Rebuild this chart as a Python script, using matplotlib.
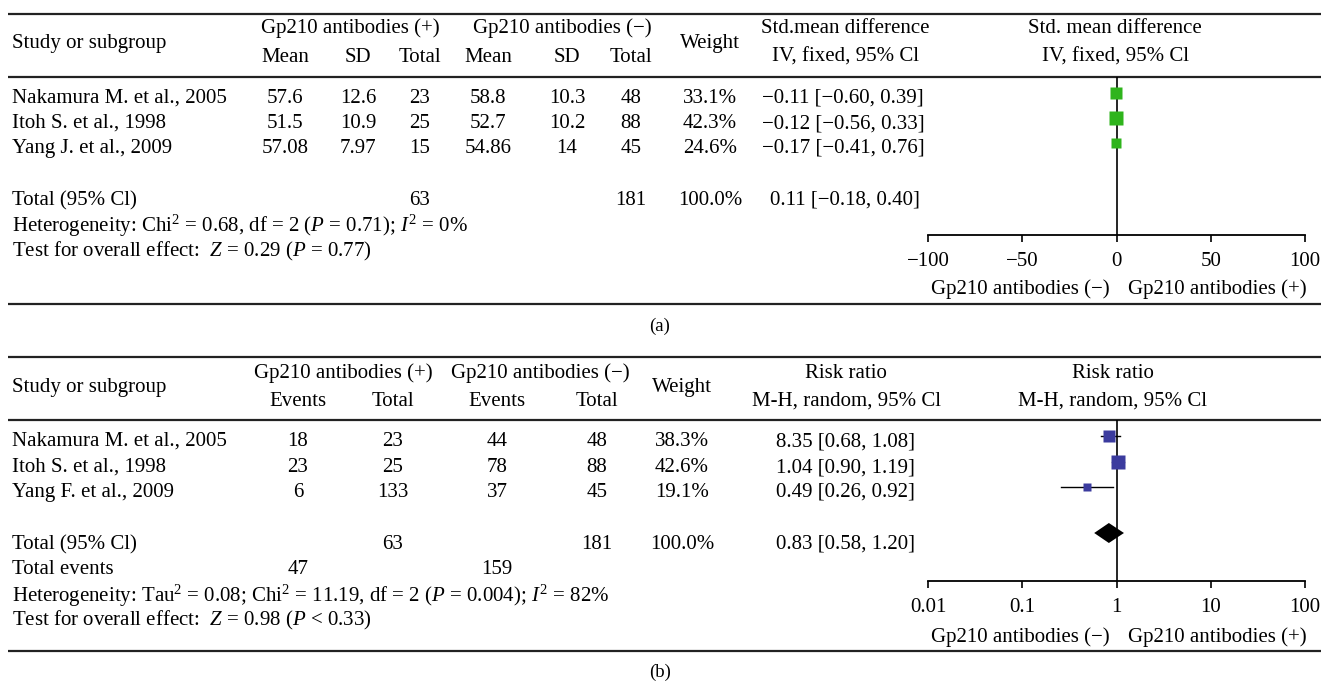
import matplotlib
matplotlib.use('Agg')
import matplotlib.pyplot as plt

plt.rcParams['font.family'] = ['Liberation Serif', 'DejaVu Serif']
plt.rcParams['mathtext.fontset'] = 'custom'
plt.rcParams['mathtext.rm'] = 'Liberation Serif'
plt.rcParams['mathtext.it'] = 'Liberation Serif:italic'

W, H = 1321, 686
FS = 15
MINUS = '\u2212'

# ── Panel (a): std. mean difference, IV fixed ─────────────────────────────────
studies_a = ['Nakamura M. et al., 2005', 'Itoh S. et al., 1998', 'Yang J. et al., 2009']
mean_pos = [57.6, 51.5, 57.08]
sd_pos = [12.6, 10.9, 7.97]
n_pos_a = [23, 25, 15]
mean_neg = [58.8, 52.7, 54.86]
sd_neg = [10.3, 10.2, 14]
n_neg_a = [48, 88, 45]
weight_a = [33.1, 42.3, 24.6]
smd = [-0.11, -0.12, -0.17]
smd_lo = [-0.60, -0.56, -0.41]
smd_hi = [0.39, 0.33, 0.76]
smd_total = [0.11, -0.18, 0.40]
total_pos_a, total_neg_a = 63, 181
ticks_a = [-100, -50, 0, 50, 100]

# ── Panel (b): risk ratio, M-H random ─────────────────────────────────────────
studies_b = ['Nakamura M. et al., 2005', 'Itoh S. et al., 1998', 'Yang F. et al., 2009']
ev_pos = [18, 23, 6]
n_pos_b = [23, 25, 133]
ev_neg = [44, 78, 37]
n_neg_b = [48, 88, 45]
weight_b = [38.3, 42.6, 19.1]
rr = [0.835, 1.04, 0.49]
rr_printed = ['8.35', '1.04', '0.49']   # estimates as printed in the table
rr_lo = [0.68, 0.90, 0.26]
rr_hi = [1.08, 1.19, 0.92]
rr_total = [0.83, 0.58, 1.20]
total_pos_b, total_neg_b = 63, 181
events_pos_b, events_neg_b = 47, 159
ticks_b = [0.01, 0.1, 1, 10, 100]

GREEN = '#2fb41c'
BLUE = '#3b3b9e'


def fmt(v):
    return f'{v:.2f}'.replace('-', MINUS)


def ci_text(est, lo, hi):
    return f'{est} [{fmt(lo)}, {fmt(hi)}]'


def side_px(w):
    # square side grows with the study weight
    return 3 + 0.26 * w


fig = plt.figure(figsize=(W / 100, H / 100), dpi=100)
ax = fig.add_axes([0, 0, 1, 1])
ax.set_xlim(0, W)
ax.set_ylim(H, 0)
ax.axis('off')


def txt(x, y, s, ha='center', size=FS):
    ax.text(x, y + 1.5, s, ha=ha, va='center', fontsize=size)


def px_axes(x0, x1, y0, y1):
    return fig.add_axes([x0 / W, 1 - y1 / H, (x1 - x0) / W, (y1 - y0) / H])


def style_forest(fa):
    fa.patch.set_visible(False)
    for s in ('top', 'left', 'right'):
        fa.spines[s].set_visible(False)
    fa.spines['bottom'].set_linewidth(1.3)
    fa.set_yticks([])
    fa.tick_params(axis='x', direction='out', length=5, width=1.2,
                   labelsize=FS, pad=7)
    fa.tick_params(axis='x', which='minor', length=0)


for y in (14, 77, 304, 357, 420, 651):
    ax.hlines(y, 8, W, color='#222222', lw=1.6)

# ── (a) table ─────────────────────────────────────────────────────────────────
cols_a = (285, 358, 420, 488, 567, 631)
txt(12, 42, 'Study or subgroup', ha='left')
txt(350, 27, 'Gp210 antibodies (+)')
txt(562, 27, f'Gp210 antibodies ({MINUS})')
for x, s in zip(cols_a, ('Mean', 'SD', 'Total', 'Mean', 'SD', 'Total')):
    txt(x, 56, s)
txt(710, 42, 'Weight')
txt(845, 27, 'Std.mean difference')
txt(845, 56, 'IV, fixed, 95% Cl')
txt(1115, 27, 'Std. mean difference')
txt(1115, 56, 'IV, fixed, 95% Cl')

rows_a = [97, 122, 147]
for i, y in enumerate(rows_a):
    txt(12, y, studies_a[i], ha='left')
    for x, v in zip(cols_a, (mean_pos[i], sd_pos[i], n_pos_a[i],
                             mean_neg[i], sd_neg[i], n_neg_a[i])):
        txt(x, y, str(v))
    txt(710, y, f'{weight_a[i]:.1f}%')
    txt(843, y, ci_text(fmt(smd[i]), smd_lo[i], smd_hi[i]))

txt(12, 199, 'Total (95% Cl)', ha='left')
txt(cols_a[2], 199, str(total_pos_a))
txt(cols_a[5], 199, str(total_neg_a))
txt(710, 199, f'{sum(weight_a):.1f}%')
txt(845, 199, ci_text(fmt(smd_total[0]), smd_total[1], smd_total[2]))
txt(12, 224, r'Heterogeneity: Chi$^2$ = 0.68, df = 2 ($P$ = 0.71); $I^2$ = 0%', ha='left')
txt(12, 250, r'Test for overall effect:  $Z$ = 0.29 ($P$ = 0.77)', ha='left')
txt(1020, 288, f'Gp210 antibodies ({MINUS})')
txt(1217, 288, 'Gp210 antibodies (+)')
txt(660, 325, '(a)', size=13.5)

fa = px_axes(928, 1305, 77, 235)
style_forest(fa)
fa.set_xlim(-100, 100)
fa.set_ylim(235, 77)
fa.set_xticks(ticks_a)
fa.set_xticklabels([str(t).replace('-', MINUS) for t in ticks_a])
fa.axvline(0, color='black', lw=1.2)
for i, y in enumerate(rows_a):
    ym = y - 4
    fa.plot([smd_lo[i], smd_hi[i]], [ym, ym], color='black', lw=1)
    fa.plot(smd[i], ym, marker='s', ms=side_px(weight_a[i]) * 0.72,
            color=GREEN, mec='none', ls='none')

# ── (b) table ─────────────────────────────────────────────────────────────────
cols_b = (298, 393, 497, 597)
txt(12, 386, 'Study or subgroup', ha='left')
txt(343, 372, 'Gp210 antibodies (+)')
txt(540, 372, f'Gp210 antibodies ({MINUS})')
for x, s in zip(cols_b, ('Events', 'Total', 'Events', 'Total')):
    txt(x, 400, s)
txt(682, 386, 'Weight')
txt(846, 372, 'Risk ratio')
txt(846, 400, 'M-H, random, 95% Cl')
txt(1113, 372, 'Risk ratio')
txt(1113, 400, 'M-H, random, 95% Cl')

rows_b = [440, 466, 491]
for i, y in enumerate(rows_b):
    txt(12, y, studies_b[i], ha='left')
    for x, v in zip(cols_b, (ev_pos[i], n_pos_b[i], ev_neg[i], n_neg_b[i])):
        txt(x, y, str(v))
    txt(682, y, f'{weight_b[i]:.1f}%')
    txt(845, y, ci_text(rr_printed[i], rr_lo[i], rr_hi[i]))

txt(12, 543, 'Total (95% Cl)', ha='left')
txt(cols_b[1], 543, str(total_pos_b))
txt(cols_b[3], 543, str(total_neg_b))
txt(682, 543, f'{sum(weight_b):.1f}%')
txt(845, 543, ci_text(f'{rr_total[0]:.2f}', rr_total[1], rr_total[2]))
txt(12, 568, 'Total events', ha='left')
txt(cols_b[0], 568, str(events_pos_b))
txt(cols_b[2], 568, str(events_neg_b))
txt(12, 594, r'Heterogeneity: Tau$^2$ = 0.08; Chi$^2$ = 11.19, df = 2 ($P$ = 0.004); $I^2$ = 82%', ha='left')
txt(12, 619, r'Test for overall effect:  $Z$ = 0.98 ($P$ < 0.33)', ha='left')
txt(1020, 636, f'Gp210 antibodies ({MINUS})')
txt(1217, 636, 'Gp210 antibodies (+)')
txt(660, 671, '(b)', size=13.5)

fb = px_axes(928, 1305, 420, 581)
style_forest(fb)
fb.set_xscale('log')
fb.set_xlim(0.01, 100)
fb.set_ylim(581, 420)
fb.set_xticks(ticks_b)
fb.set_xticklabels([f'{t:g}' for t in ticks_b])
fb.axvline(1, color='black', lw=1.2)
for i, y in enumerate(rows_b):
    ym = y - 4
    fb.plot([rr_lo[i], rr_hi[i]], [ym, ym], color='black', lw=1)
    fb.plot(rr[i], ym, marker='s', ms=side_px(weight_b[i]) * 0.72,
            color=BLUE, mec='none', ls='none')
yd = 533
fb.fill([rr_total[1], rr_total[0], rr_total[2], rr_total[0]],
        [yd, yd - 10, yd, yd + 10], color='black', lw=0)

fig.savefig('out.png', dpi=100)
